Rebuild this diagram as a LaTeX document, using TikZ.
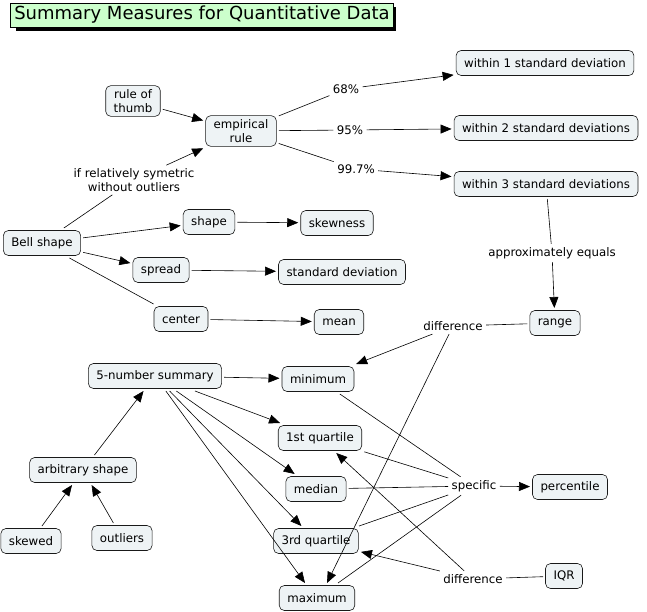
\documentclass[tikz,border=0pt]{standalone}
\usepackage{fontspec}
\setmainfont{DejaVu Sans}
\usetikzlibrary{arrows.meta}
\definecolor{conceptfill}{HTML}{EEF3F5}
\definecolor{titlefill}{HTML}{CCFFCC}
\begin{document}
\begin{tikzpicture}[x=1pt,y=-1pt,line width=0.6pt,
    concept/.style={draw=black!90,fill=conceptfill,rounded corners=5pt,
      inner xsep=8pt,inner ysep=4pt,minimum height=25pt,align=center,
      outer sep=2.5pt,font=\fontsize{11.8}{13.5}\selectfont},
    phrase/.style={inner sep=1.5pt,outer sep=2pt,align=center,
      font=\fontsize{11.8}{13.5}\selectfont},
    link/.style={-{Triangle[length=11pt,width=9pt]},draw=black}]
  \useasboundingbox (0,0) rectangle (647,612);
  % title
  \fill[black] (16,7) rectangle (396,31);
  \node[draw=black,fill=titlefill,inner xsep=4pt,minimum height=24pt,
    minimum width=380pt,font=\fontsize{18}{20}\selectfont] (title) at (202,15) {Summary Measures for Quantitative Data};
  % concepts
  \draw
    (133,101) node[concept] (thumb){rule of\\thumb}
    (241,131) node[concept] (emp){empirical\\rule}
    (545,63) node[concept] (sd1){within 1 standard deviation}
    (546,128) node[concept] (sd2){within 2 standard deviations}
    (546,184) node[concept] (sd3){within 3 standard deviations}
    (42,243) node[concept] (bell){Bell shape}
    (209,222) node[concept] (shape){shape}
    (337,223) node[concept] (skew){skewness}
    (161,270) node[concept] (spread){spread}
    (342,272) node[concept] (stdev){standard deviation}
    (181,319) node[concept] (center){center}
    (339,322) node[concept] (mean){mean}
    (555,323) node[concept] (range){range}
    (155,376) node[concept] (five){5-number summary}
    (318,379) node[concept] (min){minimum}
    (320,438) node[concept] (q1){1st quartile}
    (316,489) node[concept] (med){median}
    (316,541) node[concept] (q3){3rd quartile}
    (317,598) node[concept] (max){maximum}
    (83,470) node[concept] (arb){arbitrary shape}
    (31,541) node[concept] (skewed){skewed}
    (122,538) node[concept] (outl){outliers}
    (570,487) node[concept] (pct){percentile}
    (564,576) node[concept] (iqr){IQR};
  % linking phrases
  \draw
    (346,89) node[phrase] (p68){68\%}
    (350,130) node[phrase] (p95){95\%}
    (356,169) node[phrase] (p997){99.7\%}
    (134,180) node[phrase] (sym){if relatively symetric\\without outliers}
    (552,253) node[phrase] (approx){approximately equals}
    (453,326) node[phrase] (diffr){difference}
    (474,486) node[phrase] (spec){specific}
    (473,579) node[phrase] (diffi){difference};
  \begin{scope}[-]
    \draw (emp) to (p68);
    \draw (emp) to (p95);
    \draw (emp) to (p997);
    \draw (bell) to (sym);
    \draw (bell) to (center);
    \draw (sd3) to (approx);
    \draw (range) to (diffr);
    \draw (min) to (spec);
    \draw (q1) to (spec);
    \draw (med) to (spec);
    \draw (q3) to (spec);
    \draw (max) to (spec);
    \draw (iqr) to (diffi);
  \end{scope}
  \begin{scope}[link]
    \draw (thumb) to (emp);
    \draw (sym) to (emp);
    \draw (p68) to (sd1);
    \draw (p95) to (sd2);
    \draw (p997) to (sd3);
    \draw (bell) to (shape);
    \draw (bell) to (spread);
    \draw (shape) to (skew);
    \draw (spread) to (stdev);
    \draw (center) to (mean);
    \draw (approx) to (range);
    \draw (diffr) to (min);
    \draw (diffr) to ([xshift=10pt]max.north);
    \draw (five) to (min);
    \draw (five) to (q1);
    \draw (five) to (med);
    \draw (five) to (q3);
    \draw (five) to ([xshift=-12pt]max.north);
    \draw (arb) to (five);
    \draw (skewed) to (arb);
    \draw (outl) to (arb);
    \draw (spec) to (pct);
    \draw (diffi) to (q3);
    \draw (diffi) to (q1);
  \end{scope}
\end{tikzpicture}
\end{document}
